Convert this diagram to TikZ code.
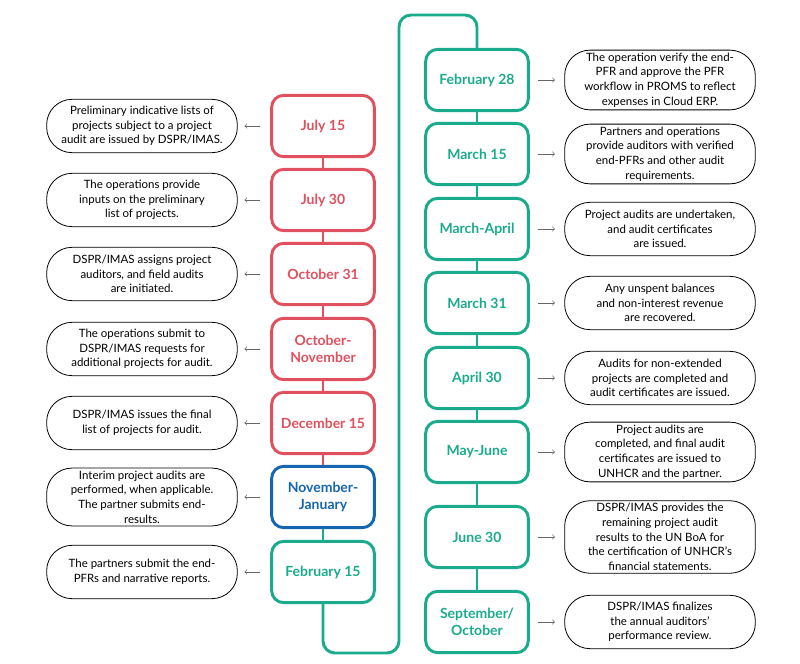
\documentclass[tikz,border=0pt]{standalone}
\usepackage{fontspec}
\setmainfont{Lato}
\definecolor{auditred}{HTML}{E0505E}
\definecolor{auditblue}{HTML}{1565B0}
\definecolor{auditteal}{HTML}{1AAA8C}
\begin{document}
\begin{tikzpicture}[x=0.75pt,y=-0.75pt,
  date/.style={draw,line width=2.2pt,rounded corners=9pt,minimum width=77pt,minimum height=46pt,
    align=center,font=\fontsize{10.5}{12.5}\selectfont\bfseries,inner sep=1pt},
  desc/.style={draw,line width=0.6pt,rounded corners=19pt,minimum width=143pt,minimum height=40pt,
    align=center,font=\fontsize{8.6}{11}\selectfont,inner sep=2pt},
  arr/.style={->,>=to,gray!80!black,line width=0.5pt}]
  \useasboundingbox (0,0) rectangle (800,664);
  % left column
  \node[date,draw=auditred,text=auditred] (1) at (323,126) {July 15};
  \node[date,draw=auditred,text=auditred] (2) at (323,200) {July 30};
  \node[date,draw=auditred,text=auditred] (3) at (323,274) {October 31};
  \node[date,draw=auditred,text=auditred] (4) at (323,349) {October-\\November};
  \node[date,draw=auditred,text=auditred] (5) at (323,423) {December 15};
  \node[date,draw=auditblue,text=auditblue] (6) at (323,497) {November-\\January};
  \node[date,draw=auditteal,text=auditteal] (7) at (323,572) {February 15};
  % right column
  \node[date,draw=auditteal,text=auditteal] (8) at (477,80) {February 28};
  \node[date,draw=auditteal,text=auditteal] (9) at (477,154) {March 15};
  \node[date,draw=auditteal,text=auditteal] (10) at (477,229) {March-April};
  \node[date,draw=auditteal,text=auditteal] (11) at (477,303) {March 31};
  \node[date,draw=auditteal,text=auditteal] (12) at (477,378) {April 30};
  \node[date,draw=auditteal,text=auditteal] (13) at (477,452) {May-June};
  \node[date,draw=auditteal,text=auditteal] (14) at (477,537) {June 30};
  \node[date,draw=auditteal,text=auditteal] (15) at (477,622) {September/\\October};
  % descriptions
  \node[desc] (d1) at (142,126) {Preliminary indicative lists of\\projects subject to a project\\audit are issued by DSPR/IMAS.};
  \node[desc] (d2) at (142,200) {The operations provide\\inputs on the preliminary\\list of projects.};
  \node[desc] (d3) at (142,274) {DSPR/IMAS assigns project\\auditors, and field audits\\are initiated.};
  \node[desc] (d4) at (142,349) {The operations submit to\\DSPR/IMAS requests for\\additional projects for audit.};
  \node[desc] (d5) at (142,423) {DSPR/IMAS issues the final\\list of projects for audit.};
  \node[desc] (d6) at (142,497) {Interim project audits are\\performed, when applicable.\\The partner submits end-\\results.};
  \node[desc] (d7) at (142,572) {The partners submit the end-\\PFRs and narrative reports.};
  \node[desc] (d8) at (660,80) {The operation verify the end-\\PFR and approve the PFR\\workflow in PROMS to reflect\\expenses in Cloud ERP.};
  \node[desc] (d9) at (660,154) {Partners and operations\\provide auditors with verified\\end-PFRs and other audit\\requirements.};
  \node[desc] (d10) at (660,229) {Project audits are undertaken,\\and audit certificates\\are issued.};
  \node[desc] (d11) at (660,303) {Any unspent balances\\and non-interest revenue\\are recovered.};
  \node[desc] (d12) at (660,378) {Audits for non-extended\\projects are completed and\\audit certificates are issued.};
  \node[desc] (d13) at (660,452) {Project audits are\\completed, and final audit\\certificates are issued to\\UNHCR and the partner.};
  \node[desc] (d14) at (660,537) {DSPR/IMAS provides the\\remaining project audit\\results to the UN BoA for\\the certification of UNHCR's\\financial statements.};
  \node[desc] (d15) at (660,622) {DSPR/IMAS finalizes\\the annual auditors'\\performance review.};
  % timeline
  \draw[auditred,line width=2.2pt] (1) -- (2) -- (3) -- (4) -- (5);
  \draw[auditred,line width=2.2pt] (5) -- (6);
  \draw[auditteal,line width=2.2pt] (6) -- (7);
  \draw[auditteal,line width=2.2pt,rounded corners=9pt] (7.south) |- (399,653) |- (477,15) -- (8.north);
  \foreach \i in {8,...,14} {
    \pgfmathtruncatemacro\j{\i+1}
    \draw[auditteal,line width=2.2pt] (\i) -- (\j);
  }
  % arrows
  \foreach \i in {1,...,7} \draw[arr] ([xshift=-8pt]\i.west) -- ([xshift=5pt]d\i.east);
  \foreach \i in {8,...,15} \draw[arr] ([xshift=6pt]\i.east) -- ([xshift=-7pt]d\i.west);
\end{tikzpicture}
\end{document}
